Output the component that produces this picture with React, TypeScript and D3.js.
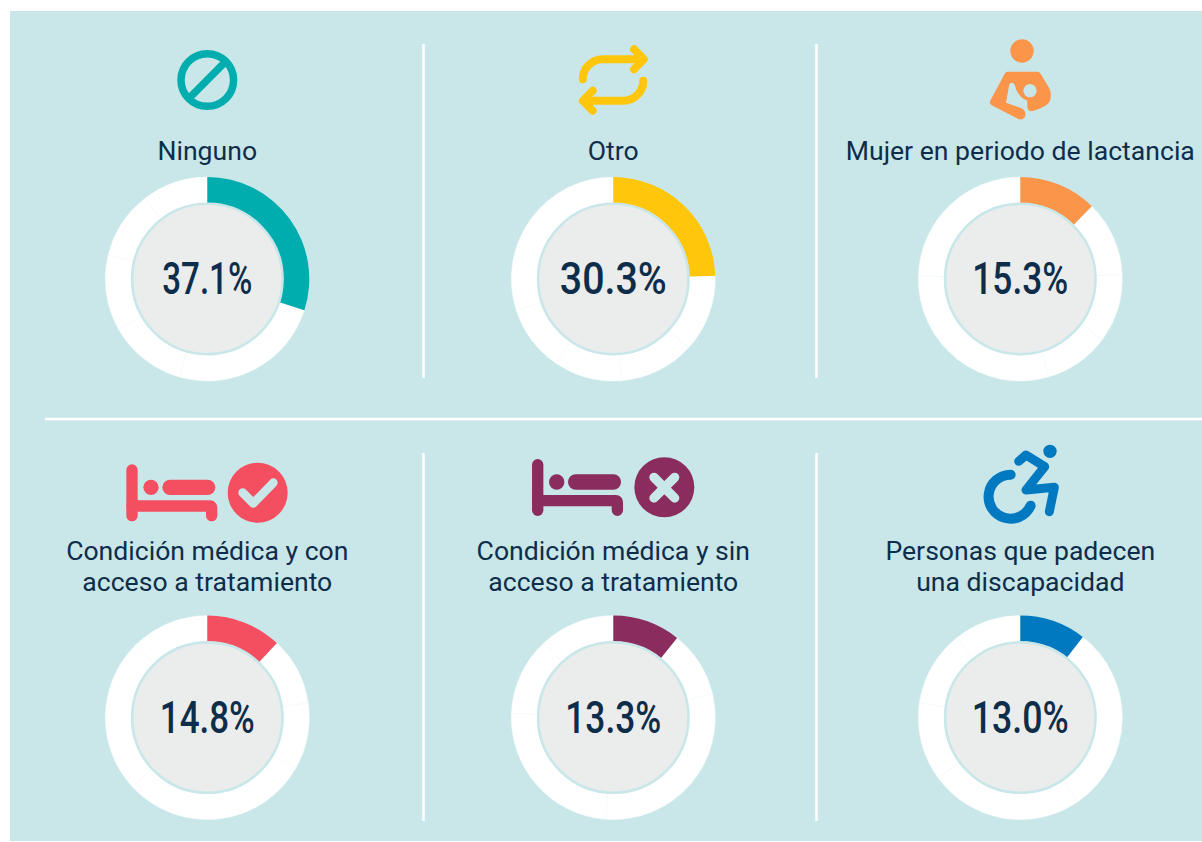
import React from "react";
import * as d3 from "d3";

const labels = [
  ["Ninguno"],
  ["Otro"],
  ["Mujer en periodo de lactancia"],
  ["Condición médica y con", "acceso a tratamiento"],
  ["Condición médica y sin", "acceso a tratamiento"],
  ["Personas que padecen", "una discapacidad"],
];
const values = [37.1, 30.3, 15.3, 14.8, 13.3, 13.0];
const colors = ["#00ADAE", "#FFC60B", "#FA9549", "#F44F60", "#8A2C5E", "#0079C1"];
const valueWidths = [90, 107, 96, 95, 96, 97];

const BG = "#C9E7E9";
const INK = "#0E2D4A";
const xs = [207.3, 613.3, 1020.3];
const ys = [279, 717.6];
const titleY = [[160], [160], [160], [560, 591], [560, 591], [560, 591]];

const pie = d3.pie<number>().sort(null).value((d) => d);
const arc = d3.arc<d3.PieArcDatum<number>>().innerRadius(76).outerRadius(102);

function Donut({ i }: { i: number }) {
  const cx = xs[i % 3];
  const cy = ys[Math.floor(i / 3)];
  // every ring holds all six shares, starting from its own category
  const rotated = [...values.slice(i), ...values.slice(0, i)];
  const arcs = pie(rotated);
  return (
    <g transform={`translate(${cx},${cy})`}>
      {arcs.map((a, k) =>
        k === 0 ? null : (
          <path key={k} d={arc(a) as string} fill="#fff" stroke="#F5FBFB" strokeWidth={0.5} />
        )
      )}
      <path d={arc(arcs[0]) as string} fill={colors[i]} />
      <circle r={75.2} fill="#EBEDEC" stroke={BG} strokeWidth={2.6} />
      <text
        y={15}
        textAnchor="middle"
        fontFamily="Roboto, sans-serif"
        fontWeight={500}
        fontSize={45}
        fill={INK}
        textLength={valueWidths[i]}
        lengthAdjust="spacingAndGlyphs"
      >
        {`${values[i].toFixed(1)}%`}
      </text>
    </g>
  );
}

function Bed({ x, y, color }: { x: number; y: number; color: string }) {
  return (
    <g transform={`translate(${x},${y}) scale(${1 / 3})`} fill="none" stroke={color} strokeLinecap="round">
      <path d="M66,60V197" strokeWidth={34} />
      <path d="M66,168H300Q305,168 305,173V197" strokeWidth={34} strokeLinecap="round" strokeLinejoin="round" />
      <circle cx={123} cy={112} r={23} fill={color} stroke="none" />
      <path d="M180,112H293" strokeWidth={46} />
    </g>
  );
}

function Icons() {
  return (
    <g>
      <g fill="none" stroke={colors[0]} strokeWidth={7.5}>
        <circle cx={207.3} cy={80} r={26.3} />
        <path d="M188.5,98.8L226,61.2" />
      </g>
      <g fill="none" stroke={colors[1]} strokeWidth={8} strokeLinecap="round" strokeLinejoin="round">
        <path d="M582.7,79.3A20,20 0 0 1 602.7,59.3H643.3M634,49.3L643.8,59.3L634,69.3" />
        <path d="M643.3,80.7A20,20 0 0 1 623.3,100.7H583.3M592.7,90.7L582.8,100.7L592.7,110.7" />
      </g>
      <g transform="translate(970,30) scale(0.33333)">
        <circle cx={156} cy={63} r={35} fill={colors[2]} />
        <path
          fill={colors[2]}
          d="M112,125L203,125Q208,125 212,132L238,175Q246,195 240,212Q232,230 190,242Q172,248 172,228L172,212Q150,205 138,178Q134,158 126,158Q118,158 117,168L108,218L155,235Q168,242 166,258Q160,272 145,267L65,226Q56,220 62,210L105,130Q108,125 112,125Z"
        />
        <circle cx={180} cy={182} r={20} fill={BG} />
      </g>
      <Bed x={110} y={450} color={colors[3]} />
      <g transform="translate(110,450) scale(0.33333)">
        <circle cx={443} cy={128} r={90} fill={colors[3]} />
        <path d="M398,128L430,160L490,98" fill="none" stroke={BG} strokeWidth={26} strokeLinecap="round" strokeLinejoin="round" />
      </g>
      <Bed x={515.7} y={444.7} color={colors[4]} />
      <g transform="translate(520,450) scale(0.33333)">
        <circle cx={433} cy={112} r={90} fill={colors[4]} />
        <path d="M402,82L464,144M464,82L402,144" fill="none" stroke={BG} strokeWidth={28} strokeLinecap="round" />
      </g>
      <g transform="translate(970,440) scale(0.33333)" fill="none" stroke={colors[5]} strokeLinecap="round" strokeLinejoin="round">
        <circle cx={240} cy={34} r={20} fill={colors[5]} stroke="none" />
        <path d="M122,104A66,66 0 1 0 182,197" strokeWidth={30} />
        <path d="M146,64L168,45L224,80L168,150L253,142L238,215" strokeWidth={27} />
      </g>
    </g>
  );
}

export default function App() {
  return (
    <svg
      width={1202}
      height={842}
      viewBox="0 0 1202 842"
      style={{ position: "absolute", left: 0, top: 0, display: "block", background: "#fff" }}
    >
      <rect x={10} y={11} width={1192} height={830} fill={BG} />
      <g stroke="#fff" strokeWidth={2.5}>
        <path d="M423.5,44V378M816.5,44V378M423.5,453V821M816.5,453V821" fill="none" />
        <path d="M45,419H1202" fill="none" />
      </g>
      <Icons />
      {labels.map((lines, i) =>
        lines.map((t, j) => (
          <text
            key={`${i}-${j}`}
            x={xs[i % 3]}
            y={titleY[i][j]}
            textAnchor="middle"
            fontFamily="Roboto, sans-serif"
            fontSize={26.6}
            fill={INK}
          >
            {t}
          </text>
        ))
      )}
      {values.map((_, i) => (
        <Donut key={i} i={i} />
      ))}
    </svg>
  );
}
